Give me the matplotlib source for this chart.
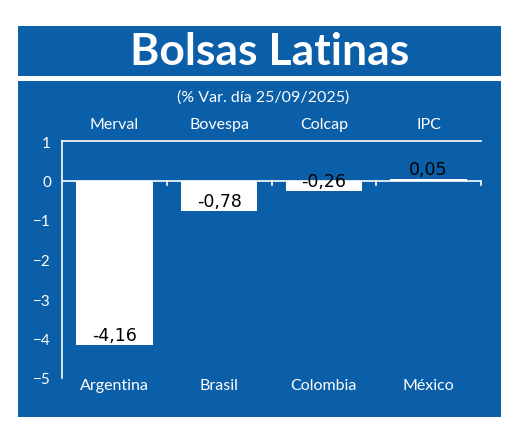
import matplotlib
matplotlib.use("Agg")
import matplotlib.pyplot as plt
from matplotlib.patches import Rectangle

countries = ["Argentina", "Brasil", "Colombia", "México"]
indices = ["Merval", "Bovespa", "Colcap", "IPC"]
values = [-4.16, -0.78, -0.26, 0.05]
labels = ["-4,16", "-0,78", "-0,26", "0,05"]
yticks = [1, 0, -1, -2, -3, -4, -5]

BLUE = "#0b5ea8"
fig = plt.figure(figsize=(5.2, 4.39), dpi=100)
fig.patch.set_facecolor("white")
W, H = 520, 439
def box(x0, y0, x1, y1):
    fig.patches.append(Rectangle((x0/W, 1-y1/H), (x1-x0)/W, (y1-y0)/H,
                                 transform=fig.transFigure, facecolor=BLUE, edgecolor="none", zorder=-5))
box(18, 27, 501, 77)
box(18, 82, 501, 418)
fig.text(270/W, 1-52/H, "Bolsas Latinas", color="white", fontsize=32, fontweight="bold",
         ha="center", va="center", family="Lato")
fig.text(263/W, 1-98/H, "(% Var. día 25/09/2025)", color="white", fontsize=11.5,
         ha="center", va="center", family="Lato")

ax = fig.add_axes([62/W, 1-379/H, (481-62)/W, (379-142)/H])
ax.set_zorder(2)
ax.set_facecolor("none")
x = list(range(len(values)))
ax.bar(x, values, width=0.73, color="white", zorder=2)
ax.set_xlim(-0.5, 3.5)
ax.set_ylim(-5, 1)
for s in ["right", "bottom"]:
    ax.spines[s].set_visible(False)
for s in ["left", "top"]:
    ax.spines[s].set_color("white")
    ax.spines[s].set_linewidth(1.2)
ax.axhline(0, color="white", lw=1.2, zorder=1)
for b in [0.5, 1.5, 2.5, 3.5]:
    ax.plot([b, b], [0, -0.12], color="white", lw=1.2, clip_on=False)
ax.set_yticks(yticks)
ax.tick_params(axis="y", colors="white", labelsize=11, length=0, pad=8)
ax.set_xticks(x)
ax.set_xticklabels(countries, family="Lato")
ax.tick_params(axis="x", colors="white", labelsize=11.5, length=0, pad=0)
for lab in ax.get_yticklabels():
    lab.set_family("Lato")
for i, v in enumerate(values):
    ax.text(i, 1.42, indices[i], color="white", ha="center", va="center", fontsize=11.5, family="Lato")
    yy = v + 0.25
    ax.text(i, yy, labels[i], color="black", ha="center", va="center", fontsize=12.5, zorder=3)
fig.savefig("out.png", dpi=100)
